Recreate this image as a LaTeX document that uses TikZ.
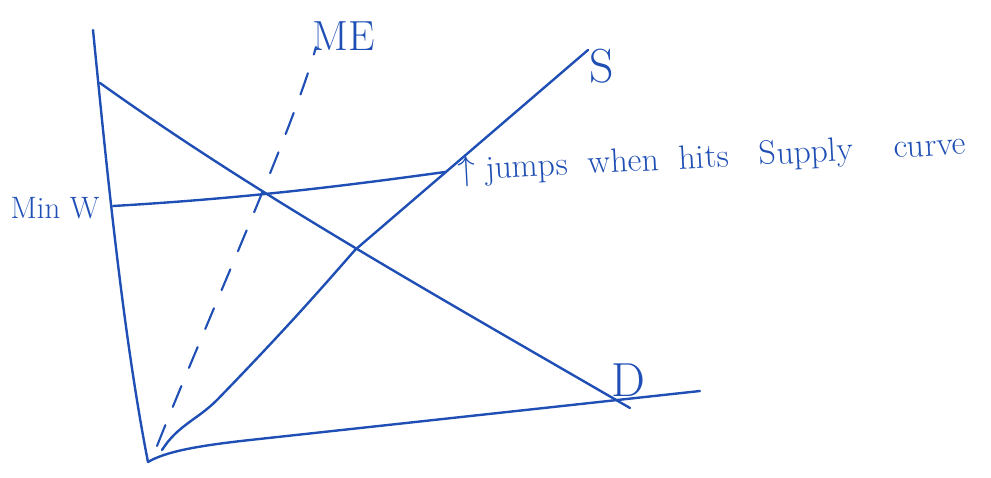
\documentclass[tikz,border=0pt]{standalone}
\usepackage{tikz}
\usetikzlibrary{positioning,calc}
\definecolor{pen}{HTML}{1F4FB5}

\begin{document}
\begin{tikzpicture}[x=0.025cm, y=-0.025cm, line cap=round, line join=round,
  ink/.style={draw=pen, line width=1.7pt},
  hand/.style={text=pen, inner sep=0pt}]
  \useasboundingbox (0,0) rectangle (991,478);

  % Axes
  \coordinate (origin) at (148,462);
  \coordinate (ytop) at (93,30);
  \coordinate (xend) at (700,391);
  \draw[ink] (ytop) .. controls (105,150) and (122,330) .. (origin);
  \draw[ink] (origin) .. controls (165,452) and (195,446) .. (250,440) -- (xend);

  % Demand
  \coordinate (dtop) at (100,83);
  \coordinate (dend) at (630,408);
  \draw[ink] (dtop) .. controls (250,190) and (400,275) .. (dend);
  \node[hand, font=\fontsize{34}{38}\selectfont] (dlab) at (628,380) {D};

  % Supply
  \coordinate (sbot) at (162,450);
  \coordinate (stop) at (588,50);
  \draw[ink] (sbot) .. controls (178,425) and (197,420) .. (217,400)
    .. controls (285,330) and (320,290) .. (355,250) -- (stop);
  \node[hand, font=\fontsize{34}{38}\selectfont] (slab) at (602,66) {S};

  % ME (dashed)
  \coordinate (mebot) at (157,446);
  \coordinate (metop) at (316,47);
  \draw[ink, line width=1.5pt, dash pattern=on 16pt off 14pt]
    (mebot) .. controls (207,320) and (293,130) .. (metop);
  \node[hand, font=\fontsize{30}{34}\selectfont] (melab) at (344,36) {ME};

  % Minimum wage
  \coordinate (mwleft) at (113,206);
  \coordinate (mwright) at (445,172);
  \draw[ink] (mwleft) .. controls (250,198) and (350,185) .. (mwright);
  \node[hand, font=\fontsize{22}{26}\selectfont] (mwlab) at (55,208) {Min W};

  % Note
  \node[hand, font=\fontsize{24}{29}\selectfont, anchor=west, rotate=3]
    (note) at (458,172) {$\uparrow$\ jumps \ when \ hits \ \ Supply \ \ \ curve};
\end{tikzpicture}
\end{document}
